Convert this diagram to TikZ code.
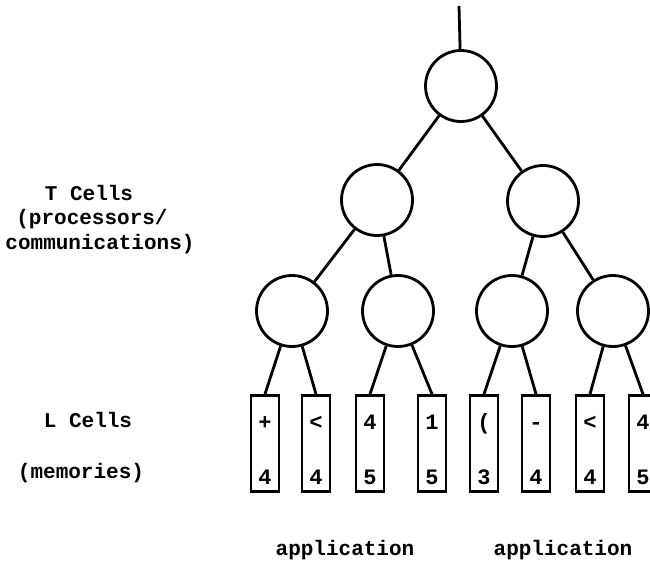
\documentclass[tikz,border=0pt]{standalone}
\usepackage{fontspec}
\setmonofont{Liberation Mono}
\usepackage{tikz}

\begin{document}
\begin{tikzpicture}[x=1pt,y=-1pt,line width=2.8pt,
    tcell/.style={circle,draw,minimum size=71pt,inner sep=0pt},
    lcell/.style={rectangle,draw,minimum width=28pt,minimum height=96pt,inner sep=0pt},
    lsym/.style={font=\ttfamily\bfseries\fontsize{22}{26}\selectfont,anchor=base,inner sep=0pt},
    txt/.style={font=\ttfamily\bfseries\fontsize{21}{25}\selectfont,anchor=base,inner sep=0pt}]
    \useasboundingbox (0,0) rectangle (650,563);
    % T cells (tree)
    \coordinate (top) at (459,6);
    \node[tcell] (t1) at (461,86) {};
    \node[tcell] (t2) at (377,200) {};
    \node[tcell] (t3) at (543,201) {};
    \node[tcell] (t4) at (292,311) {};
    \node[tcell] (t5) at (398,311) {};
    \node[tcell] (t6) at (512,311) {};
    \node[tcell] (t7) at (613,311) {};
    % L cells (memories)
    \foreach \i/\x/\a/\b in {1/265/+/4,2/316/</4,3/370/4/5,4/432/1/5,
                             5/484/(/3,6/536/-/4,7/590/</4,8/643/4/5}
    {
        \node[lcell] (m\i) at (\x,443.5) {};
        \node[lsym] (ma\i) at (\x,429) {\a};
        \node[lsym] (mb\i) at (\x,484) {\b};
    }
    % Connections
    \draw (top) -- (t1)
        (t1) -- (t2) (t1) -- (t3)
        (t2) -- (t4) (t2) -- (t5)
        (t3) -- (t6) (t3) -- (t7)
        (t4) -- (m1.north) (t4) -- (m2.north)
        (t5) -- (m3.north) (t5) -- (m4.north)
        (t6) -- (m5.north) (t6) -- (m6.north)
        (t7) -- (m7.north) (t7) -- (m8.north);
    % Labels
    \node[txt] (tlab) at (89,200) {T Cells};
    \node[txt] (tlab2) at (92,224) {(processors/};
    \node[txt] (tlab3) at (100,249) {communications)};
    \node[txt] (llab) at (88,427) {L Cells};
    \node[txt] (llab2) at (81,478) {(memories)};
    \node[txt] (app1) at (345,555) {application};
    \node[txt] (app2) at (563,555) {application};
\end{tikzpicture}
\end{document}
